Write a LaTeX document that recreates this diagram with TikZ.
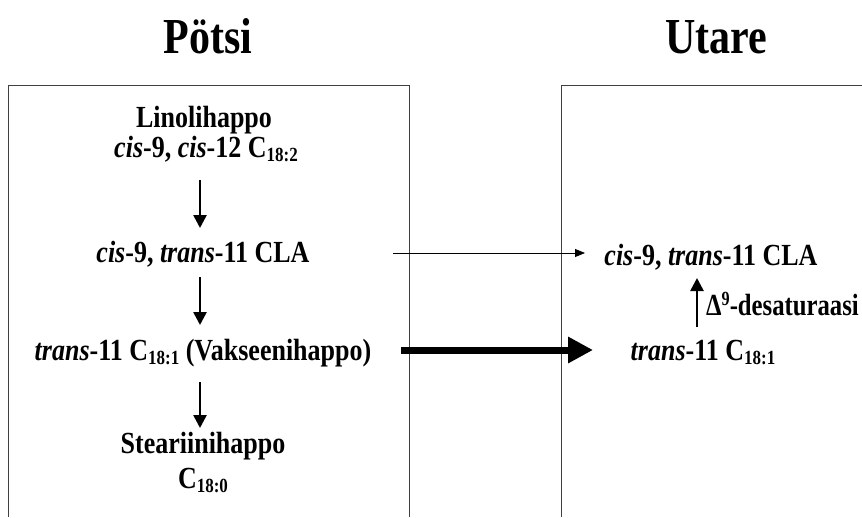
\documentclass[tikz,border=0pt]{standalone}
\usepackage{fontspec}
\setmainfont{Liberation Serif}
\usetikzlibrary{arrows.meta,positioning}
\newcommand{\chsub}[1]{\raisebox{-0.3ex}{\fontsize{17}{17}\selectfont #1}}
\newcommand{\chsup}[1]{\raisebox{0.7ex}{\fontsize{17}{17}\selectfont #1}}

\begin{document}
\begin{tikzpicture}[x=1pt,y=-1pt,
	txt/.style={anchor=base,inner sep=0pt,yscale=1.18,font=\fontsize{26}{30}\selectfont\bfseries},
	ttl/.style={anchor=base,inner sep=0pt,yscale=1.2,font=\fontsize{42}{48}\selectfont\bfseries},
	box/.style={line width=0.9pt,black!75},
	dn/.style={line width=2.6pt,-{Triangle[length=13pt,width=13pt]}},
	thin/.style={line width=0.8pt,-{Triangle[length=10pt,width=8pt]}},
	thick/.style={line width=7pt,-{Triangle[length=25pt,width=25pt]}}]
	\useasboundingbox (0,0) rectangle (862,517);
	% titles
	\node[ttl] (potsi) at (208,53) {Pötsi};
	\node[ttl] (utare) at (716,53) {Utare};
	% boxes
	\draw[box] (8,517)--(8,85)--(409,85)--(409,517);
	\draw[box] (561,517)--(561,85)--(862,85);
	% rumen
	\node[txt] (lino) at (204,127) {Linolihappo};
	\node[txt] (lino2) at (206,157) {\textit{cis}-9, \textit{cis}-12 C\chsub{18:2}};
	\node[txt] (cla) at (203,262) {\textit{cis}-9, \textit{trans}-11 CLA};
	\node[txt] (vakse) at (203,360) {\textit{trans}-11 C\chsub{18:1} (Vakseenihappo)};
	\node[txt] (stear) at (203,453) {Steariinihappo};
	\node[txt] (stear2) at (203,488) {C\chsub{18:0}};
	% udder
	\node[txt] (cla2) at (711,265) {\textit{cis}-9, \textit{trans}-11 CLA};
	\node[txt] (vakse2) at (703,360) {\textit{trans}-11 C\chsub{18:1}};
	\node[txt,anchor=base west,xscale=0.95] (desat) at (706,315) {Δ\chsup{9}-desaturaasi};
	% arrow ends
	\coordinate (a1) at (200,180); \coordinate (b1) at (200,228);
	\coordinate (a2) at (200,277); \coordinate (b2) at (200,325);
	\coordinate (a3) at (200,382); \coordinate (b3) at (200,428);
	\coordinate (a4) at (697,327); \coordinate (b4) at (697,278);
	\coordinate (t1) at (393,253); \coordinate (t2) at (585,253);
	\coordinate (k1) at (401,350); \coordinate (k2) at (593,350);
	\draw[dn] (a1)--(b1);
	\draw[dn] (a2)--(b2);
	\draw[dn] (a3)--(b3);
	\draw[dn] (a4)--(b4);
	\draw[thin] (t1)--(t2);
	\draw[thick] (k1)--(k2);
\end{tikzpicture}
\end{document}
